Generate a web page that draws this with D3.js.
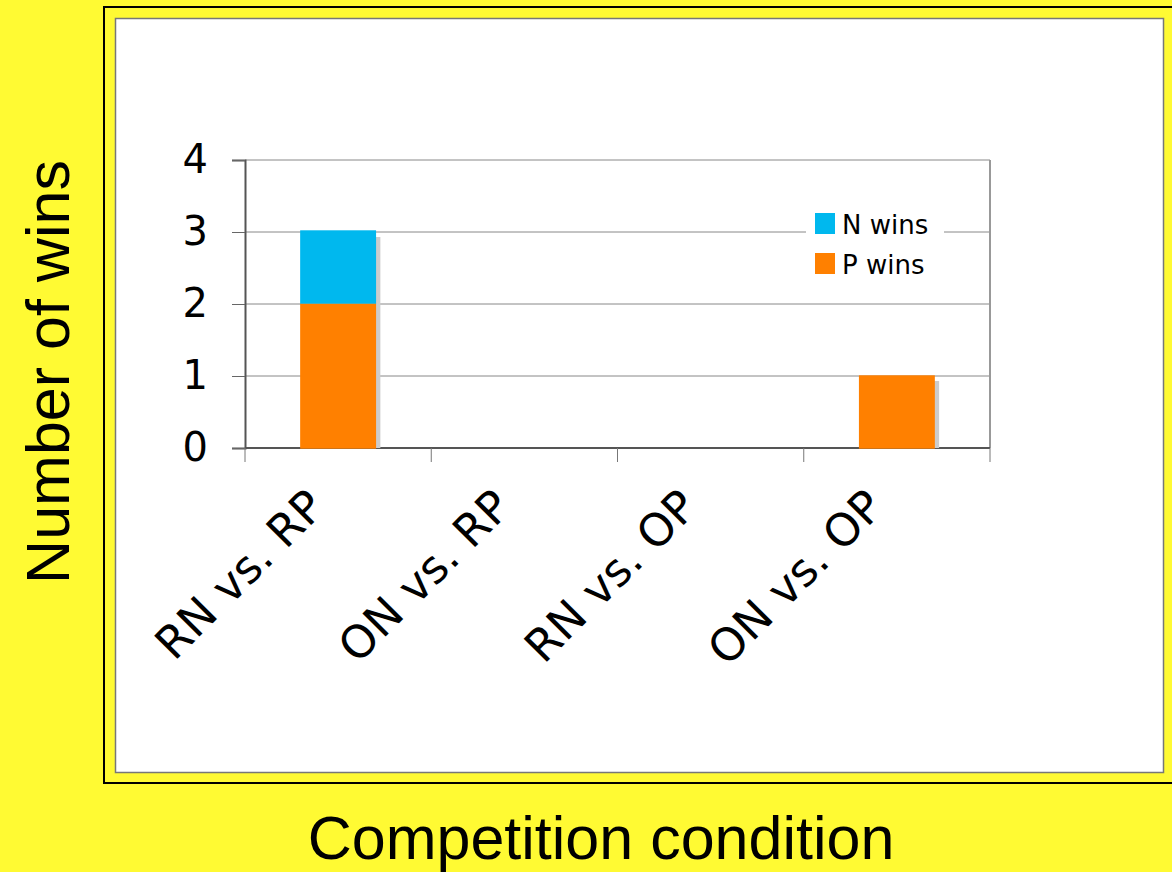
<!DOCTYPE html>
<html><head><meta charset="utf-8">
<script src="https://cdn.jsdelivr.net/npm/d3@7/dist/d3.min.js"></script>
<style>body{margin:0;background:#fffa33;}svg{display:block;}</style>
</head><body>
<svg id="c" width="1172" height="872"></svg>
<script>
const categories = ["RN vs. RP", "ON vs. RP", "RN vs. OP", "ON vs. OP"];
const pWins = [2, 0, 0, 1];
const nWins = [1, 0, 0, 0];
const seriesNames = ["P wins", "N wins"];
const seriesColors = ["#ff8000", "#00b8ee"];
const yTicks = [0, 1, 2, 3, 4];

const svg = d3.select("#c");
svg.append("rect").attr("width",1172).attr("height",872).attr("fill","#fffa33");
// outer frame
svg.append("rect").attr("x",104).attr("y",7).attr("width",1100).attr("height",776)
  .attr("fill","none").attr("stroke","#000").attr("stroke-width",2);
// inner white panel
svg.append("rect").attr("x",115.5).attr("y",18.5).attr("width",1048).attr("height",754)
  .attr("fill","#fff").attr("stroke","#777").attr("stroke-width",1.5);

const m = {l:245, r:990, t:160, b:448};
const x = d3.scaleBand().domain(categories).range([m.l, m.r]).paddingInner(0.6).paddingOuter(0.3);
const xb = d3.scaleBand().domain(categories).range([m.l, m.r]);
const y = d3.scaleLinear().domain([0,4]).range([m.b, m.t]);
const FONT_V = "DejaVu Sans, Verdana, sans-serif";
const FONT_H = "Liberation Sans, Arial, Helvetica, sans-serif";

// gridlines
svg.append("g").selectAll("line").data(yTicks.slice(1)).join("line")
  .attr("x1",m.l).attr("x2",m.r).attr("y1",d=>y(d)).attr("y2",d=>y(d))
  .attr("stroke","#888").attr("stroke-width",1);
// right border
svg.append("line").attr("x1",m.r).attr("x2",m.r).attr("y1",m.t).attr("y2",m.b)
  .attr("stroke","#999").attr("stroke-width",2);

// y axis
const ya = svg.append("g").attr("transform",`translate(${m.l},0)`)
  .call(d3.axisLeft(y).tickValues(yTicks).tickFormat(d3.format("d")).tickSize(13).tickPadding(24));
ya.select(".domain").attr("stroke","#555").attr("stroke-width",2);
ya.selectAll(".tick line").attr("stroke","#666");
ya.selectAll("text").attr("font-family",FONT_V).attr("font-size",40).attr("fill","#000");

// x axis
const xa = svg.append("g").attr("transform",`translate(0,${m.b})`);
xa.append("line").attr("x1",m.l).attr("x2",m.r).attr("stroke","#555").attr("stroke-width",2);
const edges = categories.map(c=>xb(c)).concat([m.r]);
xa.selectAll("line.t").data(edges).join("line").attr("class","t")
  .attr("x1",d=>d).attr("x2",d=>d).attr("y1",0).attr("y2",14).attr("stroke","#777");
xa.selectAll("text").data(categories).join("text")
  .attr("transform", d=>`translate(${x(d)+x.bandwidth()/2-11},${61}) rotate(-45)`)
  .attr("text-anchor","end").attr("font-family",FONT_V)
  .attr("font-size",45).attr("fill","#000").text(d=>d);

const stackData = categories.map((c,i)=>({cat:c, "P wins":pWins[i], "N wins":nWins[i]}));
const stack = d3.stack().keys(seriesNames)(stackData);

// shadows
svg.append("g").selectAll("rect").data(stackData).join("rect")
  .attr("x", d=>x(d.cat)+5).attr("width", x.bandwidth())
  .attr("y", d=>y(d["P wins"]+d["N wins"])+5)
  .attr("height", d=>Math.max(0, y(0)-y(d["P wins"]+d["N wins"])-5))
  .attr("fill","#cccccc");

stack.forEach((s,k)=>{
  svg.append("g").selectAll("rect").data(s).join("rect")
    .attr("x", d=>x(d.data.cat)).attr("width", x.bandwidth())
    .attr("y", d=>y(d[1]) - k).attr("height", d=>y(d[0])-y(d[1]))
    .attr("fill", seriesColors[k]).attr("stroke", seriesColors[k]).attr("stroke-width",1.4);
});

// legend
const lg = svg.append("g");
lg.append("rect").attr("x",806).attr("y",205).attr("width",138).attr("height",80).attr("fill","#fff");
const legItems = [{n:"N wins", c:seriesColors[1]}, {n:"P wins", c:seriesColors[0]}];
legItems.forEach((it,i)=>{
  lg.append("rect").attr("x",815).attr("y",213+i*40).attr("width",20).attr("height",21).attr("fill",it.c);
  lg.append("text").attr("x",842).attr("y",234+i*40).attr("font-family",FONT_V)
    .attr("font-size",26).attr("fill","#000").text(it.n);
});

// titles
svg.append("text").attr("transform","translate(69,372) rotate(-90)").attr("text-anchor","middle")
  .attr("font-family",FONT_H).attr("font-size",61).attr("fill","#000").text("Number of wins");
svg.append("text").attr("x",601).attr("y",859).attr("text-anchor","middle")
  .attr("font-family",FONT_H).attr("font-size",61).attr("fill","#000").text("Competition condition");
</script>
</body></html>
